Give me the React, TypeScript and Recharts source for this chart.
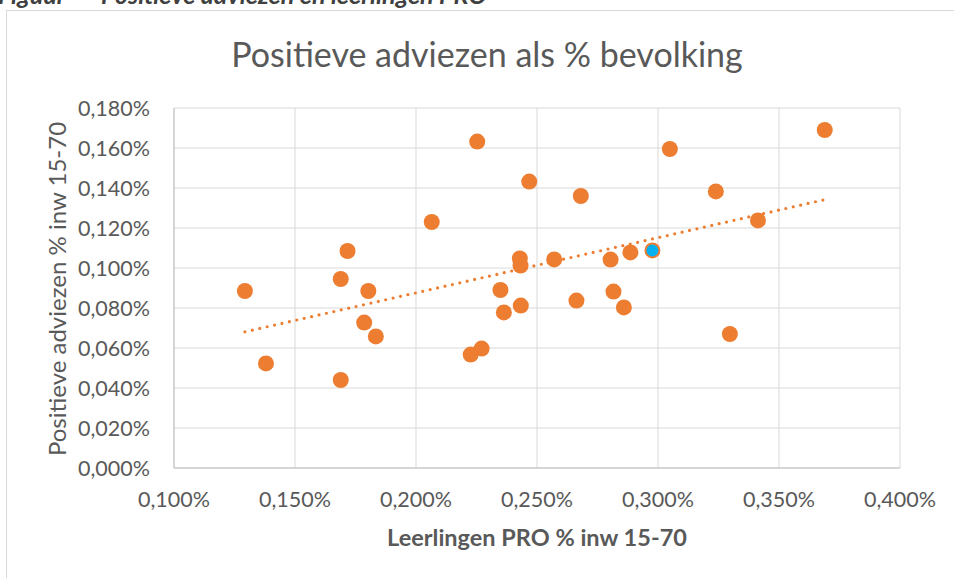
import React from "react";
import { ScatterChart, Scatter, XAxis, YAxis, CartesianGrid } from "recharts";

// Leerlingen PRO als % van inwoners 15-70 (x) en positieve adviezen als % (y)
const proPct = [
  0.1293, 0.138, 0.1689, 0.1717, 0.1803, 0.1786, 0.1834, 0.1689, 0.2065, 0.2253,
  0.2468, 0.2226, 0.2271, 0.2349, 0.2363, 0.2433, 0.2429, 0.2432, 0.2571, 0.2681,
  0.2663, 0.2804, 0.2816, 0.2859, 0.2886, 0.2977, 0.3049, 0.3239, 0.3413, 0.3297,
  0.3689,
];
const adviesPct = [
  0.0885, 0.0523, 0.0945, 0.1085, 0.0885, 0.0727, 0.0658, 0.044, 0.123, 0.1632,
  0.1432, 0.0567, 0.0597, 0.089, 0.0778, 0.0812, 0.1048, 0.1012, 0.1043, 0.136,
  0.0837, 0.1042, 0.0882, 0.0803, 0.1078, 0.1088, 0.1595, 0.1383, 0.1238, 0.067,
  0.169,
];
// the one point drawn in blue
const highlightIndex = 25;

const xTicks = [0.1, 0.15, 0.2, 0.25, 0.3, 0.35, 0.4];
const yTicks = [0, 0.02, 0.04, 0.06, 0.08, 0.1, 0.12, 0.14, 0.16, 0.18];

const ORANGE = "#ED7D31";
const BLUE = "#00B0F0";
const TEXT = "#595959";
const FONT = "Lato, 'Open Sans', sans-serif";

const fmt = (v: number) => v.toFixed(3).replace(".", ",") + "%";

const points = proPct.map((x, i) => ({ x, y: adviesPct[i], hl: i === highlightIndex }));

// linear trendline (least squares), drawn from min x to max x
const n = proPct.length;
const mx = proPct.reduce((a, b) => a + b, 0) / n;
const my = adviesPct.reduce((a, b) => a + b, 0) / n;
let sxy = 0;
let sxx = 0;
proPct.forEach((x, i) => {
  sxy += (x - mx) * (adviesPct[i] - my);
  sxx += (x - mx) * (x - mx);
});
const slope = sxy / sxx;
const intercept = my - slope * mx;
const xMin = Math.min(...proPct);
const xMax = Math.max(...proPct);
const trend = [
  { x: xMin, y: intercept + slope * xMin },
  { x: xMax, y: intercept + slope * xMax },
];

const Marker = (props: any) => {
  const { cx, cy, payload } = props;
  if (payload.hl) {
    return <circle cx={cx} cy={cy} r={7} fill={BLUE} stroke={ORANGE} strokeWidth={2} />;
  }
  return <circle cx={cx} cy={cy} r={8} fill={ORANGE} />;
};

export default function App() {
  return (
    <div
      style={{
        position: "absolute",
        left: 0,
        top: 0,
        width: 954,
        height: 578,
        overflow: "hidden",
        background: "#fff",
        fontFamily: FONT,
      }}
    >
      <svg width={954} height={578} style={{ position: "absolute", left: 0, top: 0 }}>
        {/* caption, mostly cut off above the picture as in the source */}
        <text x={-2} y={4} fontSize={25} fontStyle="italic" fontWeight="bold" fill="#404040" fontFamily={FONT}>
          Figuur
        </text>
        <text x={101} y={4} fontSize={25} fontStyle="italic" fontWeight="bold" fill="#404040" fontFamily={FONT}>
          Positieve adviezen en leerlingen PRO
        </text>
        <rect x={6.5} y={10.5} width={1000} height={1000} fill="none" stroke="#d9d9d9" strokeWidth={1} />
      </svg>

      <div style={{ position: "absolute", left: 0, top: 0 }}>
        <ScatterChart width={954} height={578} margin={{ top: 108, right: 54, left: 64, bottom: 70 }}>
          <CartesianGrid stroke="#d9d9d9" strokeWidth={1} />
          <XAxis
            type="number"
            dataKey="x"
            domain={[0.1, 0.4]}
            ticks={xTicks}
            tickFormatter={fmt}
            height={40}
            tickSize={0}
            tickMargin={24}
            tickLine={false}
            axisLine={{ stroke: "#bfbfbf" }}
            tick={{ fill: TEXT, fontSize: 21.5, fontFamily: FONT }}
            allowDataOverflow
          />
          <YAxis
            type="number"
            dataKey="y"
            domain={[0, 0.18]}
            ticks={yTicks}
            tickFormatter={fmt}
            width={110}
            tickSize={0}
            tickMargin={24}
            tickLine={false}
            axisLine={{ stroke: "#bfbfbf" }}
            tick={{ fill: TEXT, fontSize: 21.5, fontFamily: FONT }}
            allowDataOverflow
          />
          <Scatter data={points} shape={<Marker />} isAnimationActive={false} />
          <Scatter
            data={trend}
            shape={() => <g />}
            line={{ stroke: ORANGE, strokeWidth: 3.2, strokeDasharray: "0 7.6", strokeLinecap: "round" }}
            isAnimationActive={false}
          />
        </ScatterChart>
      </div>

      <svg width={954} height={578} style={{ position: "absolute", left: 0, top: 0, pointerEvents: "none" }}>
        <text x={487} y={67} textAnchor="middle" fontSize={34} fill={TEXT} fontFamily={FONT}>
          Positieve adviezen als % bevolking
        </text>
        <text transform="translate(66,289) rotate(-90)" textAnchor="middle" fontSize={24} fill={TEXT} fontFamily={FONT}>
          Positieve adviezen % inw 15-70
        </text>
        <text x={537} y={546} textAnchor="middle" fontSize={23.5} fontWeight="bold" fill={TEXT} fontFamily={FONT}>
          Leerlingen PRO % inw 15-70
        </text>
      </svg>
    </div>
  );
}
